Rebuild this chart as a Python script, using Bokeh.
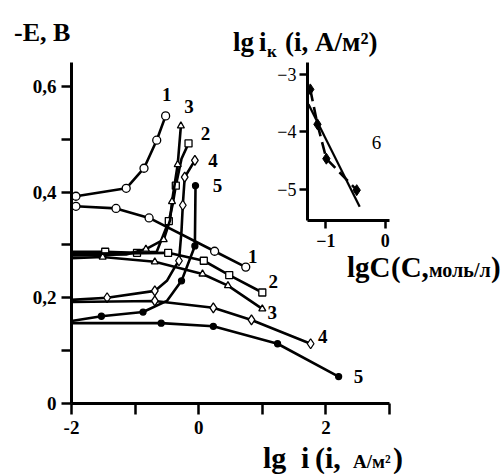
from bokeh.plotting import figure
from bokeh.models import Range1d, FixedTicker, GridBox, ColumnDataSource, Div
from bokeh.embed import file_html
from bokeh.resources import INLINE

# ---------------- main chart data: lg i vs -E ----------------
# curve 1 (open circles)
c1u_x = [-2.0, -1.93, -1.14, -0.86, -0.66, -0.52]
c1u_y = [0.390, 0.392, 0.407, 0.445, 0.498, 0.544]
c1l_x = [-2.0, -1.93, -1.30, -0.78, 0.25, 0.74]
c1l_y = [0.373, 0.373, 0.369, 0.351, 0.288, 0.258]
# curve 2 (open squares)
c2u_x = [-2.0, -1.47, -0.97, -0.66, -0.47, -0.41, -0.36, -0.27, -0.16]
c2u_y = [0.287, 0.287, 0.285, 0.287, 0.345, 0.376, 0.412, 0.463, 0.492]
c2u_mx = [-1.47, -0.97, -0.47, -0.36, -0.16]
c2u_my = [0.287, 0.285, 0.345, 0.412, 0.492]
c2l_x = [-2.0, -0.48, 0.08, 0.48, 1.0]
c2l_y = [0.283, 0.285, 0.270, 0.243, 0.210]
# curve 3 (open triangles)
c3u_x = [-2.0, -1.14, -0.83, -0.55, -0.45, -0.42, -0.33, -0.28]
c3u_y = [0.280, 0.282, 0.292, 0.310, 0.347, 0.382, 0.452, 0.525]
c3u_mx = [-0.83, -0.55, -0.42, -0.33, -0.28]
c3u_my = [0.292, 0.310, 0.382, 0.452, 0.525]
c3l_x = [-2.0, -1.51, -0.69, 0.06, 0.46, 1.0]
c3l_y = [0.275, 0.277, 0.268, 0.245, 0.223, 0.179]
# curve 4 (open diamonds)
c4u_x = [-2.0, -1.44, -0.69, -0.50, -0.38, -0.31, -0.27, -0.25, -0.22, -0.06]
c4u_y = [0.196, 0.200, 0.213, 0.232, 0.257, 0.270, 0.327, 0.375, 0.428, 0.460]
c4u_mx = [-1.44, -0.69, -0.31, -0.25, -0.22, -0.06]
c4u_my = [0.200, 0.213, 0.270, 0.375, 0.428, 0.460]
c4l_x = [-2.0, -0.69, 0.23, 0.83, 1.76]
c4l_y = [0.192, 0.194, 0.181, 0.158, 0.113]
# curve 5 (filled circles)
c5u_x = [-2.0, -1.53, -0.875, -0.50, -0.27, -0.14, -0.06, -0.05]
c5u_y = [0.156, 0.165, 0.173, 0.194, 0.232, 0.273, 0.298, 0.412]
c5u_mx = [-1.53, -0.875, -0.27, -0.06, -0.05]
c5u_my = [0.165, 0.173, 0.232, 0.298, 0.412]
c5l_x = [-2.0, -0.59, 0.23, 1.24, 2.20]
c5l_y = [0.152, 0.152, 0.146, 0.113, 0.051]

x_ticks = [-2, -1, 0, 1, 2, 3]
x_tick_labels = ["-2", "", "0", "", "2", ""]
y_ticks = [0, 0.1, 0.2, 0.3, 0.4, 0.5, 0.6]
y_tick_labels = ["0", "", "0,2", "", "0,4", "", "0,6"]

# ---------------- inset data: lg C vs lg i_k ----------------
in_pts_x = [-1.26, -1.14, -0.99, -0.48]
in_pts_y = [-3.26, -3.87, -4.47, -5.02]
in_fit_x = [-1.29, -0.43]
in_fit_y = [-3.52, -5.31]
in_x_ticks = [-1, 0]
in_y_ticks = [-3, -4, -5]

SERIF = "Liberation Serif"

# ---------------- main figure ----------------
p = figure(width=504, height=474, x_range=Range1d(-2, 3), y_range=Range1d(0, 0.645),
           output_backend="svg", toolbar_location=None,
           min_border_left=71, min_border_right=115, min_border_top=62, min_border_bottom=71)
p.outline_line_color = None
p.grid.visible = False
p.background_fill_color = "white"

for ax in (p.xaxis[0], p.yaxis[0]):
    ax.axis_line_width = 3
    ax.axis_line_color = "black"
    ax.major_tick_line_width = 2.5
    ax.major_tick_in = 0
    ax.minor_tick_line_color = None
    ax.major_label_text_font = SERIF
    ax.major_label_text_font_style = "bold"
    ax.major_label_text_font_size = "19px"
    ax.major_label_text_color = "black"
p.xaxis.major_tick_out = 11
p.yaxis.major_tick_out = 10
p.xaxis.major_label_standoff = 6
p.yaxis.major_label_standoff = 5
p.xaxis.ticker = FixedTicker(ticks=x_ticks)
p.xaxis.major_label_overrides = {t: l for t, l in zip(x_ticks, x_tick_labels)}
p.yaxis.ticker = FixedTicker(ticks=y_ticks)
p.yaxis.major_label_overrides = {t: l for t, l in zip(y_ticks, y_tick_labels)}

LW = 2.6
branches = [
    (c1u_x, c1u_y, c1u_x[1:], c1u_y[1:], "circle", 8, "white"),
    (c1l_x, c1l_y, c1l_x[1:], c1l_y[1:], "circle", 8, "white"),
    (c2u_x, c2u_y, c2u_mx, c2u_my, "square", 7, "white"),
    (c2l_x, c2l_y, c2l_x[1:], c2l_y[1:], "square", 7, "white"),
    (c3u_x, c3u_y, c3u_mx, c3u_my, "triangle", 7, "white"),
    (c3l_x, c3l_y, c3l_x[1:], c3l_y[1:], "triangle", 7, "white"),
    (c4u_x, c4u_y, c4u_mx, c4u_my, "diamond", 10, "white"),
    (c4l_x, c4l_y, c4l_x[1:], c4l_y[1:], "diamond", 10, "white"),
    (c5u_x, c5u_y, c5u_mx, c5u_my, "circle", 6, "black"),
    (c5l_x, c5l_y, c5l_x[1:], c5l_y[1:], "circle", 6, "black"),
]
for lx, ly, mx, my, mk, sz, fill in branches:
    p.line(lx, ly, line_color="black", line_width=LW)
    p.scatter(mx, my, marker=mk, size=sz, fill_color=fill, line_color="black", line_width=1.3)

# curve number labels at the branch ends (pixel offsets)
ends = [
    (c1u_x[-1], c1u_y[-1], "1", 1, -21),
    (c3u_x[-1], c3u_y[-1], "3", 8, -19),
    (c2u_x[-1], c2u_y[-1], "2", 17, -10),
    (c4u_x[-1], c4u_y[-1], "4", 18, 0),
    (c5u_x[-1], c5u_y[-1], "5", 22, 0),
    (c1l_x[-1], c1l_y[-1], "1", 7, -11),
    (c2l_x[-1], c2l_y[-1], "2", 11, -11),
    (c3l_x[-1], c3l_y[-1], "3", 10, 4),
    (c4l_x[-1], c4l_y[-1], "4", 12, -7),
    (c5l_x[-1], c5l_y[-1], "5", 20, 0),
]
src = ColumnDataSource(dict(x=[e[0] for e in ends], y=[e[1] for e in ends], t=[e[2] for e in ends],
                            dx=[e[3] for e in ends], dy=[e[4] for e in ends]))
p.text(x="x", y="y", text="t", x_offset="dx", y_offset="dy", source=src,
       text_align="center", text_baseline="middle", text_font=SERIF,
       text_font_style="bold", text_font_size="19px", text_color="black")

# ---------------- inset figure ----------------
q = figure(width=284, height=285, x_range=Range1d(-1.307, 0.071), y_range=Range1d(-5.55, -2.79),
           output_backend="svg", toolbar_location=None,
           min_border_left=87, min_border_right=22, min_border_top=60, min_border_bottom=65)
q.outline_line_color = None
q.grid.visible = False
q.background_fill_color = None
q.border_fill_color = None
for ax in (q.xaxis[0], q.yaxis[0]):
    ax.axis_line_width = 3
    ax.major_tick_line_width = 2.5
    ax.major_tick_in = 0
    ax.major_tick_out = 8
    ax.minor_tick_line_color = None
    ax.major_label_text_font = SERIF
    ax.major_label_text_font_size = "18px"
    ax.major_label_text_color = "black"
q.xaxis.major_label_text_font_style = "bold"
q.xaxis.ticker = FixedTicker(ticks=in_x_ticks)
q.yaxis.ticker = FixedTicker(ticks=in_y_ticks)
q.xaxis.major_label_standoff = 5
q.yaxis.major_label_standoff = 3

q.line(in_pts_x, in_pts_y, line_color="black", line_width=2.6, line_dash="12 6")
q.line(in_fit_x, in_fit_y, line_color="black", line_width=2.2)
q.scatter(in_pts_x, in_pts_y, marker="diamond", size=11, fill_color="black", line_color="black")
q.text(x=[in_fit_x[0]], y=[in_fit_y[0]], text=["6"], x_offset=68, y_offset=38,
       text_align="center", text_baseline="middle", text_font=SERIF, text_font_size="19px",
       text_color="black")

# ---------------- axis titles (HTML overlay, page pixels) ----------------
titles = [
    # text, left x, baseline y, font size px
    ("-E, В", 9, 37, 26),
    # inset title  lg iк (i, А/м²)
    ("lg", 228, 47, 27),
    ("i", 254, 47, 27),
    ("к", 262, 52, 17),
    ("(i, А/м²)", 280, 47, 27),
    # inset x title  lgC(C,моль/л)
    ("lgC", 342, 272, 29),
    ("(C,", 386, 272, 29),
    ("моль/л", 424, 272, 20),
    (")", 486, 272, 29),
    # main x title  lg i (i, А/м²)
    ("lg", 258, 463, 30),
    ("i", 296, 463, 30),
    ("(i,", 310, 463, 30),
    ("А/м²", 348, 463, 19),
    (")", 388, 463, 30),
]
spans = []
for s, x, y, fs in titles:
    top = y - 0.8375 * fs
    spans.append(
        f'<span style="position:absolute;left:{x}px;top:{top:.1f}px;font-family:\'{SERIF}\';'
        f'font-weight:bold;font-size:{fs}px;line-height:1;white-space:nowrap;color:black">{s}</span>')
overlay = Div(text='<div style="position:relative;width:504px;height:474px;pointer-events:none">'
                   + "".join(spans) + '</div>', width=504, height=474)

grid = GridBox(children=[(p, 0, 0, 2, 2), (q, 0, 1, 1, 1), (overlay, 0, 0, 2, 2)],
               rows=["285px", "189px"], cols=["220px", "284px"], spacing=0)

open("out.html", "w").write(file_html(grid, INLINE))
